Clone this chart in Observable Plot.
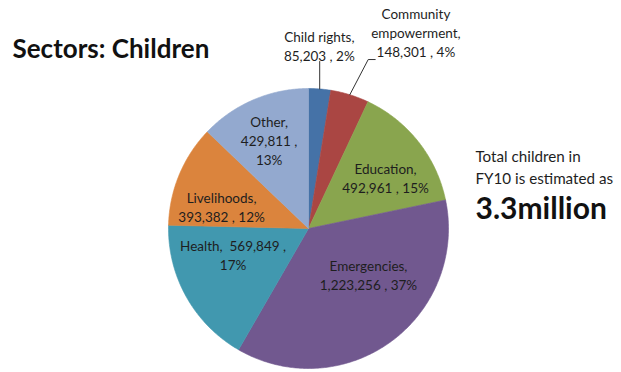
<!DOCTYPE html>
<html>
<head>
<meta charset="utf-8">
<script src="https://cdn.jsdelivr.net/npm/d3@7"></script>
<script src="https://cdn.jsdelivr.net/npm/@observablehq/plot@0.6"></script>
<style>
  html, body { margin: 0; padding: 0; background: #fff; }
  #chart { width: 621px; height: 372px; }
  svg { font-family: Lato, "Liberation Sans", sans-serif; }
</style>
</head>
<body>
<div id="chart"></div>
<script>
// ---- data ----
const sectors = ["Child rights", "Community empowerment", "Education", "Emergencies", "Health", "Livelihoods", "Other"];
const children = [85203, 148301, 492961, 1223256, 569849, 393382, 429811];
const percents = [2, 4, 15, 37, 17, 12, 13];
const labelNames = ["Child rights,", "Community\nempowerment,", "Education,", "Emergencies,", "Health, ", "Livelihoods,", "Other,"];
const colors = ["#4572A7", "#AA4643", "#89A54E", "#71588F", "#4198AF", "#DB843D", "#93A9CF"];
const title = "Sectors: Children";
const noteLines = ["Total children in", "FY10 is estimated as"];
const noteBig = "3.3million";

// ---- layout (not data) ----
const W = 621, H = 372, CX = 308, CY = 228, R = 140;
// label placement: angle nudge (deg) from slice mid-angle, radius as fraction of R
const labelNudge = [-1.2, 11.5, 4.8, -16.6, 10.3, -8.5, -0.9];
const labelRad   = [1.31, 1.60, 0.66, 0.54, 0.57, 0.64, 0.69];
const outside    = [true, true, false, false, false, false, false];

const total = d3.sum(children);
const fmt = d3.format(",");

// cumulative angles, clockwise from 12 o'clock
let acc = 0;
const slices = sectors.map((s, i) => {
  const a0 = acc / total * 2 * Math.PI;
  acc += children[i];
  const a1 = acc / total * 2 * Math.PI;
  return {sector: s, value: children[i], pct: percents[i] + "%", a0, a1, mid: (a0 + a1) / 2, i};
});
const polar = (a, r) => ({x: r * Math.sin(a), y: r * Math.cos(a)});

// polygons for each slice
const poly = [];
for (const sl of slices) {
  poly.push({sector: sl.sector, ...polar(0, 0)});
  const n = Math.max(4, Math.ceil((sl.a1 - sl.a0) / 0.01));
  for (let k = 0; k <= n; k++) {
    const a = sl.a0 + (sl.a1 - sl.a0) * k / n;
    poly.push({sector: sl.sector, ...polar(a, 1)});
  }
  poly.push({sector: sl.sector, ...polar(0, 0)});
}

// labels
const labels = slices.map(sl => {
  const a = sl.mid + labelNudge[sl.i] * Math.PI / 180;
  const p = polar(a, labelRad[sl.i]);
  let txt;
  if (sl.sector === "Health") txt = labelNames[sl.i] + " " + fmt(sl.value) + " ,\n" + sl.pct;
  else if (sl.sector === "Other") txt = labelNames[sl.i] + "\n" + fmt(sl.value) + " ,\n" + sl.pct;
  else txt = labelNames[sl.i] + "\n" + fmt(sl.value) + " , " + sl.pct;
  return {...p, text: txt, sector: sl.sector};
});

// leader lines for outside labels
const leaders = [];
slices.forEach(sl => {
  if (!outside[sl.i]) return;
  const start = polar(sl.mid, 1);
  if (sl.sector === "Child rights") {
    const endY = 167 / R;
    leaders.push({id: sl.sector, x: start.x, y: start.y});
    leaders.push({id: sl.sector, x: start.x, y: endY});
  } else {
    const e = polar(sl.mid + 2.3 * Math.PI / 180, 1.28);
    leaders.push({id: sl.sector, x: start.x, y: start.y});
    leaders.push({id: sl.sector, x: e.x, y: e.y});
    leaders.push({id: sl.sector, x: e.x + 7 / R, y: e.y});
  }
});

const chart = Plot.plot({
  width: W, height: H,
  margin: 0,
  x: {domain: [-CX / R, (W - CX) / R], range: [0, W], axis: null},
  y: {domain: [CY / R, -(H - CY) / R], range: [0, H], axis: null},
  color: {domain: sectors, range: colors},
  style: {fontFamily: "Lato, 'Liberation Sans', sans-serif", background: "#fff"},
  marks: [
    Plot.line(poly, {x: "x", y: "y", z: "sector", fill: "sector", stroke: "sector", strokeWidth: 0.6, curve: "linear"}),
    Plot.line(leaders, {x: "x", y: "y", z: "id", stroke: "#333", strokeWidth: 1}),
    Plot.text(labels, {x: "x", y: "y", text: "text", fontSize: 13.5, lineHeight: 1.4, fill: "#1e1e1e", textAnchor: "middle", lineAnchor: "middle"}),
    Plot.text([title], {frameAnchor: "top-left", dx: 12, dy: 57, lineAnchor: "bottom", textAnchor: "start", fontSize: 26, fontWeight: "bold", fill: "#111"}),
    Plot.text([noteLines.join("\n")], {frameAnchor: "top-left", dx: 475, dy: 183, lineAnchor: "bottom", textAnchor: "start", fontSize: 15.2, lineHeight: 1.42, fill: "#1e1e1e"}),
    Plot.text([noteBig], {frameAnchor: "top-left", dx: 475, dy: 218, lineAnchor: "bottom", textAnchor: "start", fontSize: 30, fontWeight: "bold", fill: "#111"})
  ]
});
document.getElementById("chart").append(chart);
</script>
</body>
</html>
